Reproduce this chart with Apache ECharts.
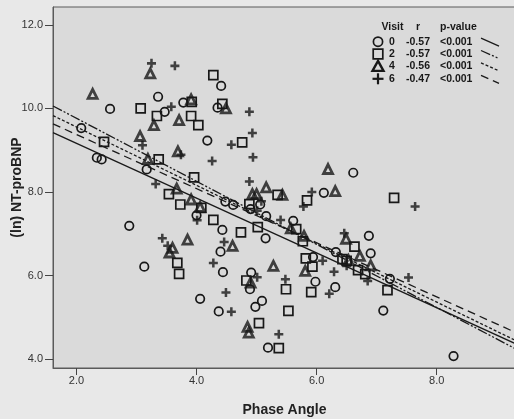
<!DOCTYPE html>
<html>
<head>
<meta charset="utf-8">
<script src="https://cdn.jsdelivr.net/npm/echarts@6/dist/echarts.min.js"></script>
<style>
html,body{margin:0;padding:0;background:#e8e8e8;}
#chart{width:514px;height:419px;}
</style>
</head>
<body>
<div id="chart"></div>
<script>
// ---- data ----
const xTicks = [2, 4, 6, 8];
const yTicks = [4, 6, 8, 10, 12];
const visits = ['0', '2', '4', '6'];
const rValues = ['-0.57', '-0.57', '-0.56', '-0.47'];
const pValues = ['<0.001', '<0.001', '<0.001', '<0.001'];

const visit0 = [[2.08,9.53],[2.34,8.82],[2.42,8.78],[2.56,9.99],[3.36,10.28],[3.47,9.92],[3.78,10.14],[3.17,8.54],
[4.41,10.54],[4.35,10.02],[4.18,9.23],[4.48,7.77],[4.61,7.69],[5.06,7.70],[4.90,7.59],[6.12,7.98],[6.61,8.46],
[4.00,7.44],[2.88,7.19],[3.13,6.21],[4.43,7.09],[5.16,7.42],[5.15,6.89],[4.40,6.57],[4.44,6.08],[5.61,7.31],
[4.91,6.07],[4.89,5.67],[5.98,5.85],[4.06,5.44],[4.37,5.14],[5.09,5.39],[4.98,5.25],[5.19,4.27],[5.94,6.44],
[6.32,6.56],[6.31,5.72],[6.87,6.95],[6.90,6.53],[7.22,5.92],[7.11,5.16],[8.28,4.07]];

const visit2 = [[2.46,9.20],[3.07,10.00],[3.34,9.82],[3.92,10.16],[3.91,9.82],[4.03,9.60],[3.37,8.78],[3.96,8.35],
[3.54,7.95],[3.73,7.70],[4.08,7.62],[4.28,10.80],[4.43,10.11],[4.76,9.19],[4.88,7.71],[5.35,7.93],[5.84,7.80],
[7.29,7.86],[4.28,7.33],[4.74,7.03],[5.02,7.16],[5.66,7.11],[5.77,6.82],[3.68,6.30],[3.71,6.04],[4.83,5.88],
[5.49,5.67],[5.53,5.15],[5.04,4.86],[5.37,4.26],[5.82,6.41],[5.93,6.21],[5.91,5.60],[6.63,6.69],[6.43,6.39],
[6.50,6.35],[6.69,6.13],[6.81,6.03],[7.18,5.65]];

const visit4 = [[2.27,10.35],[3.23,10.84],[3.91,10.22],[3.71,9.72],[3.29,9.60],[3.06,9.34],[3.69,8.97],[3.19,8.79],
[3.67,8.08],[3.91,7.82],[4.49,10.00],[5.16,8.11],[4.93,7.95],[5.00,7.95],[5.43,7.93],[6.19,8.55],[6.31,8.02],
[4.06,7.64],[3.85,6.86],[3.60,6.66],[3.55,6.55],[4.60,6.71],[5.28,6.23],[4.90,5.83],[5.57,7.13],[5.79,6.95],
[5.81,6.11],[4.85,4.77],[4.87,4.63],[6.49,6.88],[6.72,6.47],[6.90,6.24],[6.53,6.37]];

const visit6 = [[3.25,11.08],[3.64,11.02],[3.58,10.04],[3.10,9.12],[3.74,8.89],[3.32,8.19],[4.88,9.92],[4.93,9.41],
[4.58,9.13],[4.94,8.83],[4.26,8.74],[4.88,8.25],[5.92,8.00],[5.78,7.65],[7.64,7.65],[5.08,7.78],[5.01,7.55],
[4.01,7.32],[5.40,7.33],[3.43,6.89],[3.52,6.71],[4.46,6.80],[4.28,6.30],[5.01,5.96],[5.48,5.91],[4.49,5.59],
[4.58,5.13],[5.37,4.59],[6.10,6.35],[6.29,6.09],[6.21,5.56],[6.46,7.01],[6.50,6.23],[6.85,5.87],[7.53,5.95]];

// fitted regression lines (endpoints)
const fit0 = [[1.61,9.42],[9.29,4.38]];
const fit2 = [[1.61,10.06],[9.29,4.26]];
const fit4 = [[1.61,9.83],[9.29,4.46]];
const fit6 = [[1.61,9.63],[9.29,4.65]];

// ---- styling ----
const ink = '#181818';
const FONT = "'Liberation Sans', Arial, Helvetica, sans-serif";
const plusPath = 'path://M3.6,0H6.4V3.6H10V6.4H6.4V10H3.6V6.4H0V3.6H3.6Z';
const dashStyles = ['solid', [10,2,2,2,2,2], [3,2], [8,5]];

const chart = echarts.init(document.getElementById('chart'), null, {renderer:'canvas'});

function scatter(name, data, symbol, size, opts) {
  return Object.assign({
    name, type:'scatter', data, symbol, symbolSize: size, z: 3,
    itemStyle: {color:'rgba(0,0,0,0)', borderColor: ink, borderWidth: 1.7, opacity: 1},
    emphasis: {disabled: true}, animation: false
  }, opts || {});
}
function fitLine(name, data, dash) {
  return {
    name, type:'line', data, symbol:'none', z: 4, animation:false,
    lineStyle:{color:'#1a1a1a', width:1.3, type: dash},
    emphasis:{disabled:true}
  };
}

// legend (table) via graphic
const legX = {sym:378, num:392, r:418, p:440};
const rowY = [41.7, 54, 66.4, 78.8];
const headY = 27.5;
const legFont = 'bold 10.5px ' + FONT;
const graphics = [];
graphics.push({type:'text', x:392.5, y:headY, style:{text:'Visit', font:legFont, fill:ink, align:'center', verticalAlign:'middle'}});
graphics.push({type:'text', x:legX.r, y:headY, style:{text:'r', font:legFont, fill:ink, align:'center', verticalAlign:'middle'}});
graphics.push({type:'text', x:legX.p, y:headY, style:{text:'p-value', font:legFont, fill:ink, align:'left', verticalAlign:'middle'}});
visits.forEach((v,i)=>{
  const y = rowY[i];
  graphics.push({type:'text', x:legX.num, y:y, style:{text:v, font:legFont, fill:ink, align:'center', verticalAlign:'middle'}});
  graphics.push({type:'text', x:legX.r, y:y, style:{text:rValues[i], font:legFont, fill:ink, align:'center', verticalAlign:'middle'}});
  graphics.push({type:'text', x:legX.p, y:y, style:{text:pValues[i], font:legFont, fill:ink, align:'left', verticalAlign:'middle'}});
  graphics.push({type:'line', shape:{x1:481, y1:y-3.5, x2:499, y2:y+4.5},
    style:{stroke:'#1a1a1a', lineWidth:1.3, lineDash: dashStyles[i]==='solid'?null:dashStyles[i]}});
});
// legend symbols
graphics.push({type:'circle', shape:{cx:legX.sym, cy:rowY[0], r:4.6}, style:{fill:'none', stroke:ink, lineWidth:1.7}});
graphics.push({type:'rect', shape:{x:legX.sym-4.8, y:rowY[1]-4.8, width:9.6, height:9.6}, style:{fill:'none', stroke:ink, lineWidth:1.7}});
graphics.push({type:'polygon', shape:{points:[[legX.sym,rowY[2]-5.5],[legX.sym+5.5,rowY[2]+4.5],[legX.sym-5.5,rowY[2]+4.5]]}, style:{fill:'none', stroke:ink, lineWidth:2.4}});
graphics.push({type:'rect', shape:{x:legX.sym-5.5, y:rowY[3]-1.1, width:11, height:2.2}, style:{fill:ink}});
graphics.push({type:'rect', shape:{x:legX.sym-1.1, y:rowY[3]-5.5, width:2.2, height:11}, style:{fill:ink}});

const option = {
  backgroundColor:'#e8e8e8',
  animation:false,
  grid:{left:53, top:7, right:-2, bottom:51, containLabel:false, outerBoundsMode:'none',
        show:true, backgroundColor:'#dadada', borderColor:'#5a5a5a', borderWidth:1},
  xAxis:{
    type:'value', min:1.61, max:9.32,
    name:'Phase Angle', nameLocation:'middle', nameGap:35, nameMoveOverlap:false,
    nameTextStyle:{fontFamily:FONT, fontWeight:'bold', fontSize:14, color:'#222'},
    axisLine:{show:true, onZero:false, lineStyle:{color:'#5a5a5a', width:1}},
    axisTick:{show:true, length:7, customValues:xTicks, lineStyle:{color:'#444'}},
    axisLabel:{customValues:xTicks, margin:7, fontFamily:FONT, fontSize:11, color:'#333', formatter:v=>Number(v).toFixed(1)},
    splitLine:{show:false}
  },
  yAxis:{
    type:'value', min:3.784, max:12.43,
    name:'(ln) NT-proBNP', nameLocation:'middle', nameGap:29, nameRotate:90, nameMoveOverlap:false,
    nameTextStyle:{fontFamily:FONT, fontWeight:'bold', fontSize:14, color:'#222'},
    axisLine:{show:true, onZero:false, lineStyle:{color:'#5a5a5a', width:1}},
    axisTick:{show:true, length:8, customValues:yTicks, lineStyle:{color:'#444'}},
    axisLabel:{customValues:yTicks, margin:10, fontFamily:FONT, fontSize:11, color:'#333', formatter:v=>Number(v).toFixed(1)},
    splitLine:{show:false}
  },
  series:[
    scatter('Visit 0', visit0, 'circle', 8.5),
    scatter('Visit 2', visit2, 'rect', 9),
    scatter('Visit 4', visit4, 'triangle', 9, {itemStyle:{color:'rgba(0,0,0,0)', borderColor:ink, borderWidth:2.8}}),
    scatter('Visit 6', visit6, plusPath, 9, {itemStyle:{color:ink, borderWidth:0}}),
    fitLine('Fit 0', fit0, dashStyles[0]),
    fitLine('Fit 2', fit2, dashStyles[1]),
    fitLine('Fit 4', fit4, dashStyles[2]),
    fitLine('Fit 6', fit6, dashStyles[3])
  ],
  graphic: graphics
};
chart.setOption(option);
</script>
</body>
</html>
